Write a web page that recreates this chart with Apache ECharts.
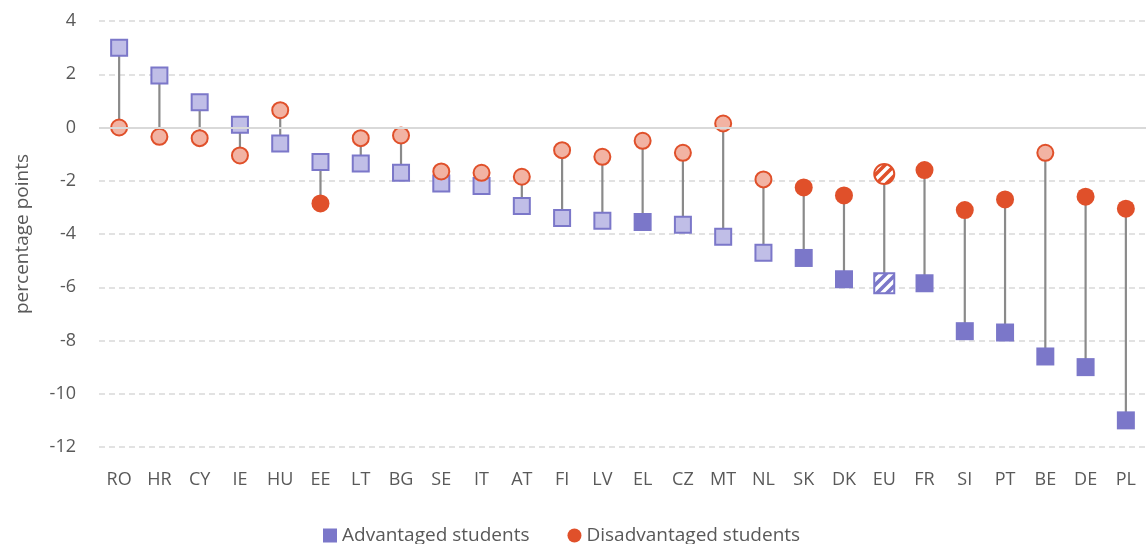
<!DOCTYPE html>
<html>
<head>
<meta charset="utf-8">
<script src="https://cdn.jsdelivr.net/npm/echarts@6/dist/echarts.min.js"></script>
<style>
  html, body { margin: 0; padding: 0; background: #fff; }
  #chart { width: 1146px; height: 544px; }
</style>
</head>
<body>
<div id="chart"></div>
<script>
const countries = ['RO', 'HR', 'CY', 'IE', 'HU', 'EE', 'LT', 'BG', 'SE', 'IT', 'AT', 'FI', 'LV',
  'EL', 'CZ', 'MT', 'NL', 'SK', 'DK', 'EU', 'FR', 'SI', 'PT', 'BE', 'DE', 'PL']
const advantaged = [3.0, 1.95, 0.95, 0.1, -0.6, -1.3, -1.35, -1.7, -2.1, -2.2, -2.95, -3.4, -3.5,
  -3.55, -3.65, -4.1, -4.7, -4.9, -5.7, -5.85, -5.85, -7.65, -7.7, -8.6, -9.0, -11.0]
const disadvantaged = [0.0, -0.35, -0.4, -1.05, 0.65, -2.85, -0.4, -0.3, -1.65, -1.7, -1.85, -0.85, -1.1,
  -0.5, -0.95, 0.15, -1.95, -2.25, -2.55, -1.75, -1.6, -3.1, -2.7, -0.95, -2.6, -3.05]
// 0 = not significant (pale), 1 = significant (solid), 2 = EU average (hatched)
const advSignificant = [0, 0, 0, 0, 0, 0, 0, 0, 0, 0, 0, 0, 0, 1, 0, 0, 0, 1, 1, 2, 1, 1, 1, 1, 1, 1]
const disSignificant = [0, 0, 0, 0, 0, 1, 0, 0, 0, 0, 0, 0, 0, 0, 0, 0, 0, 1, 1, 2, 1, 1, 1, 0, 1, 1]
const yTicks = { min: -12, max: 4, interval: 2 }

const purple = '#7B77C9'
const purpleLight = '#C0BEE7'
const red = '#E0502A'
const redLight = '#F2B3A3'
const fontFamily = '"Open Sans", "Noto Sans", sans-serif'

// diagonal stripes for the EU average markers
function stripes(color) {
  const n = 10
  const c = document.createElement('canvas')
  c.width = n
  c.height = n
  const ctx = c.getContext('2d')
  ctx.fillStyle = '#ffffff'
  ctx.fillRect(0, 0, n, n)
  ctx.strokeStyle = color
  ctx.lineWidth = 3.6
  ctx.beginPath()
  ctx.moveTo(-2, n + 2); ctx.lineTo(n + 2, -2)
  ctx.moveTo(-2, 2); ctx.lineTo(2, -2)
  ctx.moveTo(n - 2, n + 2); ctx.lineTo(n + 2, n - 2)
  ctx.stroke()
  return { image: c, repeat: 'repeat' }
}

function marker(flag, dark, light) {
  if (flag === 1) return { symbolSize: 18, itemStyle: { color: dark, borderWidth: 0, opacity: 1 } }
  if (flag === 2) return { symbolSize: 0, itemStyle: { opacity: 0 } }
  return { symbolSize: 16, itemStyle: { color: light, borderColor: dark, borderWidth: 2, opacity: 1 } }
}

const advData = advantaged.map((v, i) => Object.assign({ value: [i, v] }, marker(advSignificant[i], purple, purpleLight)))
const disData = disadvantaged.map((v, i) => Object.assign({ value: [i, v] }, marker(disSignificant[i], red, redLight)))
const stemData = countries.map((c, i) => [i, advantaged[i], disadvantaged[i]])
const euData = stemData.filter((d, i) => advSignificant[i] === 2)

const purpleHatch = stripes(purple)
const redHatch = stripes(red)

const chart = echarts.init(document.getElementById('chart'))
chart.setOption({
  animation: false,
  textStyle: { fontFamily: fontFamily },
  grid: { left: 99, top: 21, width: 1053, height: 426, containLabel: false },
  legend: {
    top: 521,
    left: 318,
    itemGap: 38,
    itemWidth: 14,
    itemHeight: 14,
    textStyle: { color: '#595959', fontSize: 19, fontFamily: fontFamily },
    data: [
      { name: 'Advantaged students', icon: 'rect', itemStyle: { color: purple, borderWidth: 0 } },
      { name: 'Disadvantaged students', icon: 'circle', itemStyle: { color: red, borderWidth: 0 } }
    ]
  },
  xAxis: {
    type: 'category',
    data: countries,
    axisLine: { show: false },
    axisTick: { show: false },
    axisLabel: { color: '#595959', fontSize: 18, margin: 24, interval: 0 },
    splitLine: { show: false }
  },
  yAxis: {
    type: 'value',
    min: yTicks.min,
    max: yTicks.max,
    interval: yTicks.interval,
    name: 'percentage points',
    nameLocation: 'middle',
    nameGap: 67,
    nameTextStyle: { color: '#595959', fontSize: 19 },
    axisLine: { show: false },
    axisTick: { show: false },
    axisLabel: { color: '#595959', fontSize: 18, margin: 23 },
    splitLine: { lineStyle: { color: '#D9D9D9', type: [6, 4], width: 1.5 } }
  },
  series: [
    {
      type: 'custom',
      name: 'stems',
      z: 1,
      silent: true,
      data: stemData,
      encode: { x: 0, y: [1, 2] },
      renderItem: function (params, api) {
        const a = api.coord([api.value(0), api.value(1)])
        const b = api.coord([api.value(0), api.value(2)])
        return {
          type: 'line',
          shape: { x1: a[0], y1: a[1], x2: b[0], y2: b[1] },
          style: { stroke: '#8A8A8A', lineWidth: 2.2 }
        }
      },
      markLine: {
        silent: true,
        symbol: 'none',
        label: { show: false },
        lineStyle: { color: '#D9D9D9', type: 'solid', width: 2 },
        data: [{ yAxis: 0 }]
      }
    },
    {
      type: 'scatter',
      name: 'Advantaged students',
      z: 3,
      symbol: 'rect',
      itemStyle: { color: purple, opacity: 1 },
      data: advData
    },
    {
      type: 'scatter',
      name: 'Disadvantaged students',
      z: 4,
      symbol: 'circle',
      itemStyle: { color: red, opacity: 1 },
      data: disData
    },
    {
      type: 'custom',
      name: 'EU average',
      z: 5,
      silent: true,
      data: euData,
      encode: { x: 0, y: [1, 2] },
      renderItem: function (params, api) {
        const a = api.coord([api.value(0), api.value(1)])
        const b = api.coord([api.value(0), api.value(2)])
        return {
          type: 'group',
          children: [
            {
              type: 'rect',
              shape: { x: a[0] - 10, y: a[1] - 10, width: 20, height: 20 },
              style: { fill: purpleHatch, stroke: purple, lineWidth: 2 }
            },
            {
              type: 'circle',
              shape: { cx: b[0], cy: b[1], r: 10 },
              style: { fill: redHatch, stroke: red, lineWidth: 2 }
            }
          ]
        }
      }
    }
  ]
})
</script>
</body>
</html>
